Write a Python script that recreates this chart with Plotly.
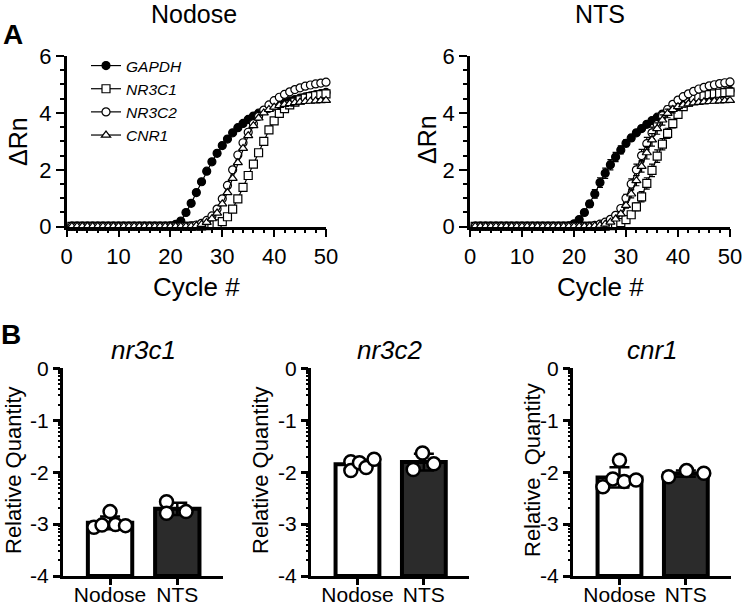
import numpy as np
import plotly.graph_objects as go

# ---------------- data ----------------
cycles = list(range(1, 51))

nod_gapdh = [0.02,0.02,0.02,0.02,0.02,0.02,0.02,0.02,0.02,0.02,
             0.02,0.02,0.02,0.02,0.02,0.02,0.02,0.02,0.02,0.03,
             0.08,0.20,0.50,0.82,1.20,1.58,1.95,2.28,2.58,2.85,
             3.08,3.30,3.48,3.63,3.77,3.89,3.99,4.08,4.16,4.24,
             4.30,4.36,4.42,4.47,4.52,4.56,4.60,4.64,4.68,4.72]
nod_nr3c1 = [0.01,0.01,0.01,0.01,0.01,0.01,0.01,0.01,0.01,0.01,
             0.01,0.01,0.01,0.01,0.01,0.01,0.01,0.01,0.01,0.01,
             0.01,0.01,0.01,0.01,0.02,0.03,0.04,0.06,0.10,0.18,
             0.35,0.62,0.98,1.38,1.80,2.20,2.60,3.00,3.40,3.72,
             3.98,4.15,4.28,4.38,4.46,4.52,4.57,4.61,4.64,4.67]
nod_nr3c2 = [0.01,0.01,0.01,0.01,0.01,0.01,0.01,0.01,0.01,0.01,
             0.01,0.01,0.01,0.01,0.01,0.01,0.01,0.01,0.01,0.01,
             0.01,0.01,0.01,0.03,0.06,0.12,0.22,0.38,0.62,0.98,
             1.45,2.00,2.52,2.95,3.32,3.62,3.88,4.10,4.28,4.43,
             4.55,4.65,4.74,4.82,4.88,4.94,4.98,5.02,5.05,5.08]
nod_cnr1 = [0.01,0.01,0.01,0.01,0.01,0.01,0.01,0.01,0.01,0.01,
            0.01,0.01,0.01,0.01,0.01,0.01,0.01,0.01,0.01,0.01,
            0.01,0.01,0.01,0.02,0.04,0.08,0.15,0.28,0.48,0.80,
            1.20,1.70,2.25,2.75,3.20,3.55,3.82,4.00,4.12,4.20,
            4.26,4.30,4.33,4.36,4.38,4.40,4.41,4.42,4.43,4.44]

nts_gapdh = [0.02,0.02,0.02,0.02,0.02,0.02,0.02,0.02,0.02,0.02,
             0.02,0.02,0.02,0.02,0.02,0.02,0.02,0.02,0.03,0.10,
             0.25,0.50,0.80,1.15,1.55,1.88,2.18,2.45,2.70,2.93,
             3.12,3.30,3.45,3.60,3.73,3.85,3.96,4.06,4.15,4.23,
             4.30,4.37,4.43,4.49,4.55,4.60,4.65,4.70,4.74,4.78]
nts_nr3c1 = [0.01,0.01,0.01,0.01,0.01,0.01,0.01,0.01,0.01,0.01,
             0.01,0.01,0.01,0.01,0.01,0.01,0.01,0.01,0.01,0.01,
             0.01,0.01,0.01,0.01,0.01,0.02,0.04,0.08,0.14,0.25,
             0.42,0.70,1.05,1.52,1.98,2.48,2.90,3.28,3.62,3.95,
             4.22,4.38,4.48,4.55,4.60,4.64,4.67,4.69,4.71,4.73]
nts_nr3c2 = [0.01,0.01,0.01,0.01,0.01,0.01,0.01,0.01,0.01,0.01,
             0.01,0.01,0.01,0.01,0.01,0.01,0.01,0.01,0.01,0.01,
             0.01,0.01,0.02,0.05,0.09,0.16,0.26,0.40,0.64,1.00,
             1.50,2.00,2.50,2.92,3.30,3.60,3.90,4.12,4.30,4.45,
             4.57,4.67,4.76,4.84,4.90,4.95,4.99,5.03,5.06,5.09]
nts_cnr1 = [0.01,0.01,0.01,0.01,0.01,0.01,0.01,0.01,0.01,0.01,
            0.01,0.01,0.01,0.01,0.01,0.01,0.01,0.01,0.01,0.01,
            0.01,0.01,0.01,0.03,0.05,0.09,0.16,0.27,0.45,0.75,
            1.15,1.62,2.12,2.60,3.05,3.45,3.75,3.98,4.12,4.22,
            4.28,4.32,4.35,4.37,4.39,4.40,4.41,4.42,4.43,4.44]

# NTS standard deviations (error bars visible in the rising phase)
nts_gapdh_sd = [0]*20 + [0.05,0.08,0.12,0.15,0.17,0.18,0.18,0.16,0.14,0.12,
                         0.10,0.09,0.08,0.07,0.06,0.05,0.05,0.05,0.05,0.05,
                         0.05,0.05,0.05,0.05,0.05,0.05,0.05,0.05,0.05,0.05]
nts_nr3c1_sd = [0]*28 + [0.04,0.06,0.10,0.14,0.18,0.20,0.22,0.22,0.20,0.18,
                         0.15,0.12,0.10,0.08,0.06,0.05,0.05,0.05,0.05,0.05,0.05,0.05]
nts_nr3c2_sd = [0]*26 + [0.04,0.06,0.10,0.14,0.18,0.20,0.22,0.22,0.20,0.18,
                         0.15,0.12,0.10,0.08,0.06,0.05,0.05,0.05,0.05,0.05,
                         0.05,0.05,0.05,0.05]
nts_cnr1_sd = [0]*27 + [0.04,0.06,0.10,0.14,0.18,0.20,0.22,0.22,0.20,0.18,
                        0.15,0.12,0.10,0.08,0.06,0.05,0.05,0.05,0.05,0.05,
                        0.05,0.05,0.05]

genes = ["GAPDH", "NR3C1", "NR3C2", "CNR1"]

groups = ["Nodose", "NTS"]
nr3c1_nodose = [-3.06, -3.02, -2.76, -3.01, -3.03]
nr3c1_nts = [-2.57, -2.79, -2.76]
nr3c2_nodose = [-1.80, -1.97, -1.82, -1.91, -1.75]
nr3c2_nts = [-1.63, -1.95, -1.84]
cnr1_nodose = [-2.28, -2.13, -1.77, -2.18, -2.15]
cnr1_nts = [-2.09, -1.97, -2.02]

# horizontal scatter of the individual points (fraction of category spacing)
jit_nr3c1_nodose = [-0.24, -0.12, 0.0, 0.08, 0.23]
jit_nr3c1_nts = [-0.16, -0.16, 0.13]
jit_nr3c2_nodose = [-0.10, -0.10, 0.03, 0.13, 0.25]
jit_nr3c2_nts = [-0.02, -0.16, 0.15]
jit_cnr1_nodose = [-0.25, -0.10, 0.0, 0.07, 0.25]
jit_cnr1_nts = [-0.26, 0.01, 0.27]

y_ticks_bottom = [-4, -3, -2, -1, 0]
y_ticklabels_bottom = ["-4", "-3", "-2", "-1", "0"]

# ---------------- figure ----------------
W, H = 742, 607
FONT = "Liberation Sans, Arial, Helvetica, sans-serif"
fig = go.Figure()

def px(x):
    return x / W

def py(y):
    return 1 - y / H

symbols = {"GAPDH": ("circle", "black"), "NR3C1": ("square", "white"),
           "NR3C2": ("circle", "white"), "CNR1": ("triangle-up", "white")}

nod_series = [nod_gapdh, nod_nr3c1, nod_nr3c2, nod_cnr1]
nts_series = [nts_gapdh, nts_nr3c1, nts_nr3c2, nts_cnr1]
nts_sds = [nts_gapdh_sd, nts_nr3c1_sd, nts_nr3c2_sd, nts_cnr1_sd]

for g, vals in zip(genes, nod_series):
    sym, fill = symbols[g]
    fig.add_trace(go.Scatter(
        x=cycles, y=vals, mode="lines+markers", name=g,
        line=dict(color="black", width=1.2),
        marker=dict(symbol=sym, size=8, color=fill, line=dict(color="black", width=1.2)),
        cliponaxis=False, xaxis="x", yaxis="y", showlegend=True))

for g, vals, sd in zip(genes, nts_series, nts_sds):
    sym, fill = symbols[g]
    fig.add_trace(go.Scatter(
        x=cycles, y=vals, mode="lines+markers", name=g,
        line=dict(color="black", width=1.2),
        marker=dict(symbol=sym, size=8, color=fill, line=dict(color="black", width=1.2)),
        error_y=dict(type="data", array=sd, color="black", thickness=1.2, width=3),
        cliponaxis=False, xaxis="x2", yaxis="y2", showlegend=False))

bar_sets = [
    (nr3c1_nodose, nr3c1_nts, jit_nr3c1_nodose, jit_nr3c1_nts, "x3", "y3"),
    (nr3c2_nodose, nr3c2_nts, jit_nr3c2_nodose, jit_nr3c2_nts, "x4", "y4"),
    (cnr1_nodose, cnr1_nts, jit_cnr1_nodose, jit_cnr1_nts, "x5", "y5"),
]
fills = ["white", "#2b2b2b"]
for nod, nts, jn, jt, xa, ya in bar_sets:
    for i, (pts, jit) in enumerate([(nod, jn), (nts, jt)]):
        m = float(np.mean(pts))
        sd = float(np.std(pts, ddof=1))
        fig.add_trace(go.Bar(
            x=[i], y=[m - (-4)], base=-4, width=0.66,
            marker=dict(color=fills[i], line=dict(color="black", width=4)),
            xaxis=xa, yaxis=ya, showlegend=False))
        fig.add_trace(go.Scatter(
            x=[i], y=[m], mode="markers", marker=dict(size=1, color="rgba(0,0,0,0)"),
            error_y=dict(type="data", array=[sd], color="black", thickness=2.5, width=10),
            xaxis=xa, yaxis=ya, showlegend=False, cliponaxis=False))
        fig.add_trace(go.Scatter(
            x=[i + j for j in jit], y=pts, mode="markers",
            marker=dict(size=13, color="white", line=dict(color="black", width=2.5)),
            xaxis=xa, yaxis=ya, showlegend=False, cliponaxis=False))

# empty traces so the minor-tick overlay axes are drawn
for k in (6, 7, 8):
    fig.add_trace(go.Scatter(x=[], y=[], xaxis="x%d" % (k - 3), yaxis="y%d" % k,
                             showlegend=False, hoverinfo="skip"))

tickfont = dict(family=FONT, size=22, color="black")

def top_x(domain):
    return dict(domain=domain, range=[0, 50], tickvals=[0, 10, 20, 30, 40, 50],
                ticks="outside", ticklen=8, tickwidth=2, tickcolor="black",
                minor=dict(dtick=2, tick0=0, ticks="outside", ticklen=4, tickwidth=1.5, tickcolor="black"),
                showline=True, linecolor="black", linewidth=2.5, showgrid=False, zeroline=False,
                ticklabeloverflow="allow",
                tickfont=tickfont, fixedrange=True)

def top_y(domain, anchor):
    return dict(domain=domain, range=[0, 6], tickvals=[0, 2, 4, 6], anchor=anchor,
                ticks="outside", ticklen=8, tickwidth=2, tickcolor="black",
                minor=dict(dtick=0.5, tick0=0, ticks="outside", ticklen=4, tickwidth=1.5, tickcolor="black"),
                showline=True, linecolor="black", linewidth=2.5, showgrid=False, zeroline=False,
                tickfont=tickfont, fixedrange=True)

minor_log = [n + np.log10(k) for n in range(-4, 0) for k in range(2, 10)]

def bot_x(domain, anchor):
    return dict(domain=domain, range=[-0.7, 1.68], tickvals=[0, 1], ticktext=groups, anchor=anchor,
                ticks="outside", ticklen=6, tickwidth=2.5, tickcolor="black",
                ticklabelstandoff=-8, ticklabeloverflow="allow",
                showline=True, linecolor="black", linewidth=3, showgrid=False, zeroline=False,
                tickfont=dict(family=FONT, size=21, color="black"), fixedrange=True)

def bot_y(domain, anchor):
    return dict(domain=domain, range=[-4, 0], tickvals=y_ticks_bottom, ticktext=y_ticklabels_bottom,
                anchor=anchor, ticks="outside", ticklen=7, tickwidth=2.5, tickcolor="black",
                showline=True, linecolor="black", linewidth=3, showgrid=False, zeroline=False,
                tickfont=dict(family=FONT, size=21, color="black"), fixedrange=True)

def bot_minor(domain, anchor, over):
    return dict(domain=domain, range=[-4, 0], tickvals=minor_log, anchor=anchor, overlaying=over,
                side="left", ticks="outside", ticklen=4, tickwidth=1.5, tickcolor="black",
                showticklabels=False, showline=False, showgrid=False, zeroline=False, fixedrange=True)

top_dom = [py(226.7), py(56)]
bot_dom = [py(576), py(368.3)]

fig.update_layout(
    width=W, height=H, margin=dict(l=0, r=0, t=0, b=0, autoexpand=False),
    paper_bgcolor="white", plot_bgcolor="white",
    font=dict(family=FONT, color="black"),
    barmode="overlay",
    xaxis=top_x([px(66.7), px(326)]) | dict(anchor="y"),
    yaxis=top_y(top_dom, "x"),
    xaxis2=top_x([px(470), px(730)]) | dict(anchor="y2"),
    yaxis2=top_y(top_dom, "x2"),
    xaxis3=bot_x([px(63), px(223)], "y3"),
    yaxis3=bot_y(bot_dom, "x3"),
    xaxis4=bot_x([px(311), px(469)], "y4"),
    yaxis4=bot_y(bot_dom, "x4"),
    xaxis5=bot_x([px(573), px(731)], "y5"),
    yaxis5=bot_y(bot_dom, "x5"),
    yaxis6=bot_minor(bot_dom, "x3", "y3"),
    yaxis7=bot_minor(bot_dom, "x4", "y4"),
    yaxis8=bot_minor(bot_dom, "x5", "y5"),
    legend=dict(x=px(86), y=py(49), xanchor="left", yanchor="top",
                font=dict(family=FONT, size=15.5, color="black", style="italic"),
                bgcolor="rgba(0,0,0,0)", tracegroupgap=0, itemwidth=30),
    showlegend=True,
)

def ann(text, x, y, size, angle=0, bold=False, italic=False):
    t = text
    if bold:
        t = "<b>" + t + "</b>"
    if italic:
        t = "<i>" + t + "</i>"
    fig.add_annotation(text=t, x=px(x), y=py(y), xref="paper", yref="paper",
                       showarrow=False, textangle=angle, xanchor="center", yanchor="middle",
                       font=dict(family=FONT, size=size, color="black"))

ann("Nodose", 194, 14, 25)
ann("NTS", 600, 14, 25)
ann("A", 13, 34, 28, bold=True)
ann("B", 11, 334, 28, bold=True)
ann("Cycle #", 196, 287, 26)
ann("Cycle #", 600, 287, 26)
ann("ΔRn", 18, 142, 25, angle=-90)
ann("ΔRn", 427, 140, 25, angle=-90)
ann("nr3c1", 143, 350, 26, italic=True)
ann("nr3c2", 390, 350, 26, italic=True)
ann("cnr1", 652, 350, 26, italic=True)
ann("Relative Quantity", 13, 470, 22, angle=-90)
ann("Relative Quantity", 260, 470, 22, angle=-90)
ann("Relative\u00a0 Quantity", 532, 470, 22, angle=-90)

fig.write_html("out.html", post_script="document.body.style.margin='0px';",
               config={"displayModeBar": False})
